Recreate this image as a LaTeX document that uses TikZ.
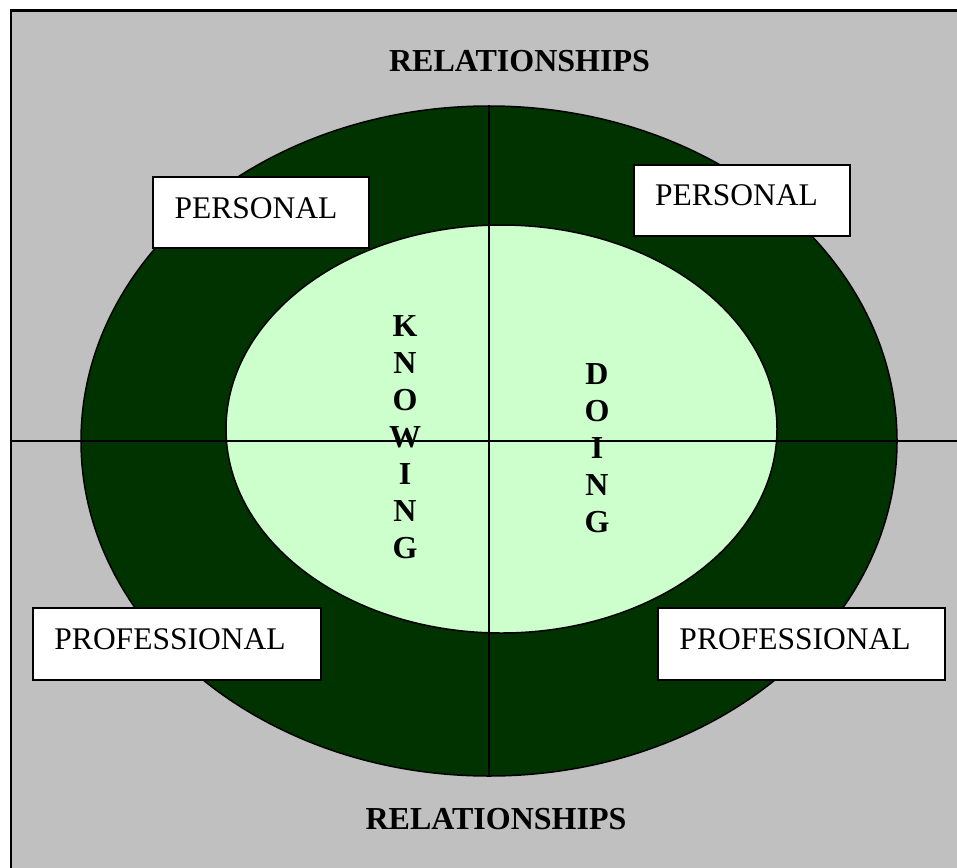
\documentclass[tikz,border=0pt]{standalone}
\usepackage{fontspec}
\setmainfont{Liberation Serif}
\usetikzlibrary{shapes.geometric}
\definecolor{bggray}{HTML}{C0C0C0}
\definecolor{darkgr}{HTML}{003300}
\definecolor{lightgr}{HTML}{CCFFCC}
\tikzset{
  bx/.style={rectangle, draw=black, fill=white, line width=1.2pt, inner sep=0pt},
  tx/.style={anchor=base, inner sep=0pt, font=\fontsize{31.5}{36}\selectfont},
  hd/.style={anchor=base, inner sep=0pt, font=\fontsize{32}{36}\selectfont\bfseries},
  ov/.style={ellipse, draw=black, line width=1.5pt, inner sep=0pt}
}
\begin{document}
\begin{tikzpicture}[x=1pt, y=-1pt]
\useasboundingbox (0,0) rectangle (957,867);
\clip (0,0) rectangle (957,867);
\node[rectangle, draw, line width=2.5pt, fill=bggray, anchor=north west, minimum width=1000, minimum height=900] (frame) at (9.5,9.5) {};
% rings
\node[ov, fill=darkgr, minimum width=816, minimum height=670] (outer) at (489,441) {};
\node[ov, fill=lightgr, minimum width=551, minimum height=408] (inner) at (501.5,429) {};
% cross
\coordinate (hl) at (9.5,441);
\coordinate (hr) at (960,441);
\draw[line width=1.5pt] (hl) -- (hr);
\draw[line width=1.5pt] (outer.north) -- (outer.south);
% boxes
\node[bx, minimum width=216, minimum height=71] (pl) at (261,212.5) {};
\node[tx] (plt) at (256,218) {PERSONAL};
\node[bx, minimum width=216, minimum height=71] (pr) at (742,200.5) {};
\node[tx] (prt) at (736.5,205) {PERSONAL};
\node[bx, minimum width=288, minimum height=72] (fl) at (177,644) {};
\node[tx] (flt) at (170,649) {PROFESSIONAL};
\node[bx, minimum width=287, minimum height=72] (fr) at (801.5,644) {};
\node[tx] (frt) at (795,649) {PROFESSIONAL};
% titles
\node[hd] (reltop) at (519.5,71) {RELATIONSHIPS};
\node[hd] (relbot) at (496,829) {RELATIONSHIPS};
% vertical words
\foreach \l [count=\i from 0] in {K,N,O,W,I,N,G}
  \node[hd] (kn\i) at (405,336+37*\i) {\l};
\foreach \l [count=\i from 0] in {D,O,I,N,G}
  \node[hd] (dg\i) at (597,384+37*\i) {\l};
\end{tikzpicture}
\end{document}
